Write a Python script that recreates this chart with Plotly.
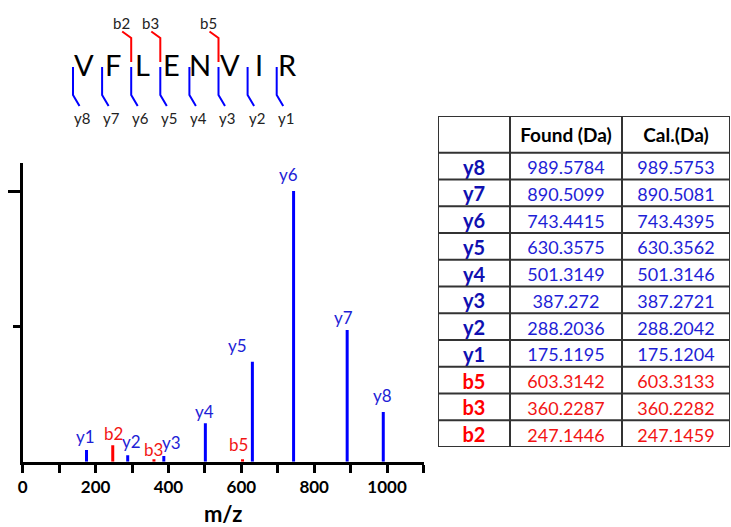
import plotly.graph_objects as go

# ---------------- data ----------------
y_ions = ["y1", "y2", "y3", "y4", "y5", "y6", "y7", "y8"]
y_mz = [175.1195, 288.2036, 387.272, 501.3149, 630.3575, 743.4415, 890.5099, 989.5784]
y_int = [4.3, 2.4, 2.1, 14.2, 36.9, 100.0, 48.7, 18.4]

b_ions = ["b2", "b3", "b5"]
b_mz = [247.1446, 360.2287, 603.3142]
b_int = [6.1, 0.9, 0.9]

sequence = ["V", "F", "L", "E", "N", "V", "I", "R"]
y_cuts = [0, 1, 2, 3, 4, 5, 6, 7]     # cut before residue index k -> y(8-k)
b_cuts = [2, 3, 5]                    # cut after k residues -> b_k

table_ions = ["y8", "y7", "y6", "y5", "y4", "y3", "y2", "y1", "b5", "b3", "b2"]
table_found = ["989.5784", "890.5099", "743.4415", "630.3575", "501.3149", "387.272",
               "288.2036", "175.1195", "603.3142", "360.2287", "247.1446"]
table_cal = ["989.5753", "890.5081", "743.4395", "630.3562", "501.3146", "387.2721",
             "288.2042", "175.1204", "603.3133", "360.2282", "247.1459"]
table_header = ["", "Found (Da)", "Cal.(Da)"]

x_ticks = [0, 200, 400, 600, 800, 1000]

# ---------------- styling ----------------
W, H = 731, 527
FONT = "Lato"
BLUE = "#0000FF"
BLUE_TXT = "#1e1ed6"
BLUE_DARK = "#1010b0"
RED = "#FF0000"
RED_TXT = "#f21414"
GRID = "#333333"

def px(x):
    return x / W

def py(y):
    return 1 - y / H

# label offsets (px) relative to the top of each stem
y_lab_dx = {"y1": -1, "y2": 4, "y3": 8, "y4": -1, "y5": -15, "y6": -5, "y7": -4, "y8": -1}
y_lab_dy = {"y1": 14, "y2": 14, "y3": 14, "y4": 12, "y5": 16, "y6": 17, "y7": 12, "y8": 16}
b_lab_dx = {"b2": 1, "b3": 0, "b5": -4}
b_lab_dy = {"b2": 12, "b3": 10, "b5": 15}

fig = go.Figure()

def stems(xs, ys):
    sx, sy = [], []
    for x, y in zip(xs, ys):
        sx += [x, x, None]
        sy += [0, y, None]
    return sx, sy

sx, sy = stems(y_mz, y_int)
fig.add_trace(go.Scatter(x=sx, y=sy, mode="lines", line=dict(color=BLUE, width=3),
                         hoverinfo="skip", showlegend=False))
sx, sy = stems(b_mz, b_int)
fig.add_trace(go.Scatter(x=sx, y=sy, mode="lines", line=dict(color=RED, width=3),
                         hoverinfo="skip", showlegend=False))

annotations = []
for name, x, y in zip(y_ions, y_mz, y_int):
    annotations.append(dict(x=x, y=y, xref="x", yref="y", text=name, showarrow=False,
                            xanchor="center", yanchor="middle",
                            xshift=y_lab_dx[name], yshift=y_lab_dy[name],
                            font=dict(family=FONT, size=17, color=BLUE_TXT)))
for name, x, y in zip(b_ions, b_mz, b_int):
    annotations.append(dict(x=x, y=y, xref="x", yref="y", text=name, showarrow=False,
                            xanchor="center", yanchor="middle",
                            xshift=b_lab_dx[name], yshift=b_lab_dy[name],
                            font=dict(family=FONT, size=17, color=RED_TXT)))

# ---------------- peptide sequence diagram ----------------
seq_x0, seq_dx, seq_y = 84, 29.1, 65
letter_x = [seq_x0 + i * seq_dx for i in range(len(sequence))]
for lx, aa in zip(letter_x, sequence):
    annotations.append(dict(x=px(lx), y=py(seq_y), xref="paper", yref="paper", text=aa,
                            showarrow=False, xanchor="center", yanchor="middle",
                            font=dict(family=FONT, size=29, color="black")))

shapes = []
n = len(sequence)
for k in y_cuts:
    cx = letter_x[k] - 11
    path = f"M {px(cx)} {py(67)} L {px(cx)} {py(95)} L {px(cx + 6.5)} {py(106)}"
    shapes.append(dict(type="path", path=path, xref="paper", yref="paper",
                       line=dict(color=BLUE, width=2)))
    annotations.append(dict(x=px(letter_x[k] - 2), y=py(118), xref="paper", yref="paper",
                            text=f"y{n - k}", showarrow=False, xanchor="center", yanchor="middle",
                            font=dict(family=FONT, size=15, color="#222222")))
for k in b_cuts:
    cx = letter_x[k] - 11
    path = f"M {px(cx)} {py(62)} L {px(cx)} {py(38)} L {px(cx - 9)} {py(31.5)}"
    shapes.append(dict(type="path", path=path, xref="paper", yref="paper",
                       line=dict(color=RED, width=2)))
    annotations.append(dict(x=px(cx - 10), y=py(23), xref="paper", yref="paper",
                            text=f"b{k}", showarrow=False, xanchor="center", yanchor="middle",
                            font=dict(family=FONT, size=15, color="#222222")))

# ---------------- table (drawn on its own axes) ----------------
col_w = [72, 112, 108]
head_h, row_h = 36.7, 26.7
text_drop = 3.5          # text sits slightly below the cell centre
col_edges = [0]
for w in col_w:
    col_edges.append(col_edges[-1] + w)
n_rows = len(table_ions)
row_edges = [0, head_h] + [head_h + row_h * (i + 1) for i in range(n_rows)]
col_mid = [(col_edges[i] + col_edges[i + 1]) / 2 for i in range(3)]
row_mid = [(row_edges[i + 1] + row_edges[i + 2]) / 2 + text_drop for i in range(n_rows)]

# header
fig.add_trace(go.Scatter(
    x=col_mid[1:], y=[head_h / 2 + 3] * 2, mode="text",
    text=[f"<b>{h}</b>" for h in table_header[1:]], textposition="middle center",
    textfont=dict(family=FONT, size=19, color="black"),
    xaxis="x2", yaxis="y2", hoverinfo="skip", showlegend=False))
# ion column
fig.add_trace(go.Scatter(
    x=[col_mid[0]] * n_rows, y=row_mid, mode="text",
    text=[f"<b>{s}</b>" for s in table_ions], textposition="middle center",
    textfont=dict(family=FONT, size=20,
                  color=[BLUE_DARK if s.startswith("y") else RED for s in table_ions]),
    xaxis="x2", yaxis="y2", hoverinfo="skip", showlegend=False))
val_colors = [BLUE_TXT if s.startswith("y") else RED_TXT for s in table_ions]
for ci, col in ((1, table_found), (2, table_cal)):
    fig.add_trace(go.Scatter(
        x=[col_mid[ci]] * n_rows, y=row_mid, mode="text",
        text=col, textposition="middle center",
        textfont=dict(family=FONT, size=18, color=val_colors),
        xaxis="x2", yaxis="y2", hoverinfo="skip", showlegend=False))

for xe in col_edges:
    shapes.append(dict(type="line", xref="x2", yref="y2", x0=xe, x1=xe,
                       y0=row_edges[0], y1=row_edges[-1], line=dict(color=GRID, width=2)))
for ye in row_edges:
    shapes.append(dict(type="line", xref="x2", yref="y2", x0=col_edges[0], x1=col_edges[-1],
                       y0=ye, y1=ye, line=dict(color=GRID, width=2)))

fig.update_layout(
    width=W, height=H,
    margin=dict(l=0, r=0, t=0, b=0),
    paper_bgcolor="white", plot_bgcolor="white",
    showlegend=False,
    font=dict(family=FONT, color="black"),
    annotations=annotations,
    shapes=shapes,
    xaxis=dict(domain=[px(22.7), px(423.5)], range=[0, 1100],
               tickvals=x_ticks, ticktext=[f"<b>{t}</b>" for t in x_ticks],
               ticks="outside", ticklen=8, tickwidth=3, tickcolor="black",
               minor=dict(dtick=100, tick0=0, ticks="outside", ticklen=8, tickwidth=3, tickcolor="black"),
               showline=True, linecolor="black", linewidth=3,
               showgrid=False, zeroline=False, automargin=False,
               tickfont=dict(family=FONT, size=17, color="black"),
               title=dict(text="<b>m/z</b>", standoff=13,
                          font=dict(family=FONT, size=22, color="black"))),
    yaxis=dict(domain=[py(461.7), py(162.7)], range=[0, 110.5],
               tickvals=[100], showticklabels=False,
               ticks="outside", ticklen=12, tickwidth=3, tickcolor="black",
               minor=dict(tickvals=[50], ticks="outside", ticklen=7, tickwidth=3, tickcolor="black"),
               showline=True, linecolor="black", linewidth=3,
               showgrid=False, zeroline=False, automargin=False),
    xaxis2=dict(domain=[px(438), px(730)], range=[0, col_edges[-1]], visible=False,
                fixedrange=True),
    yaxis2=dict(domain=[py(447), py(116)], range=[row_edges[-1], 0], visible=False,
                fixedrange=True),
)

fig.write_html("out.html", config={"displayModeBar": False},
               post_script="document.body.style.margin='0px';")
